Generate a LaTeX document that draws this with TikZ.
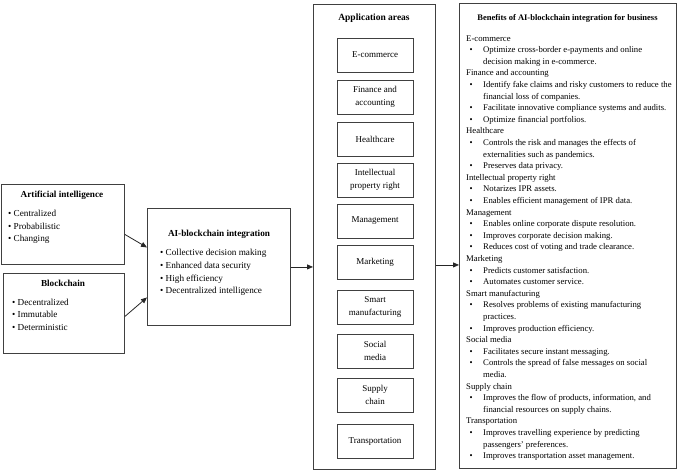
\documentclass[tikz,border=0pt]{standalone}
\usepackage{fontspec}
\setmainfont{Liberation Serif}
\usetikzlibrary{arrows.meta,positioning,calc}
\begin{document}
\begin{tikzpicture}[x=1pt,y=-1pt,
  box/.style={draw=black!75, line width=0.9pt, inner sep=0pt, anchor=north west},
  ttl/.style={font=\fontsize{9.2}{11}\selectfont\bfseries, inner sep=0pt},
  itm/.style={font=\fontsize{9.2}{11}\selectfont, inner sep=0pt, anchor=west, text height=6.6pt, text depth=2pt},
  area/.style={draw=black!75, line width=0.8pt, minimum width=76pt, minimum height=34pt, inner sep=1pt, align=center, font=\fontsize{9}{12.5}\selectfont},
  btxt/.style={font=\fontsize{8.7}{10}\selectfont, inner sep=0pt, anchor=west, text height=6pt, text depth=1.8pt},
  arr/.style={-{Triangle[length=6pt,width=5pt]}, line width=0.8pt, black!85}]
\useasboundingbox (0,0) rectangle (677,473);

% Artificial intelligence
\node[box, minimum width=123.5pt, minimum height=80pt] (ai) at (0.5,184) {};
\node[ttl] (aiT) at (62,195) {Artificial intelligence};
\node[itm] (ai1) at (8,214) {\textbullet\ Centralized};
\node[itm] (ai2) at (8,227) {\textbullet\ Probabilistic};
\node[itm] (ai3) at (8,239) {\textbullet\ Changing};

% Blockchain
\node[box, minimum width=121pt, minimum height=80pt] (bc) at (3,273) {};
\node[ttl] (bcT) at (63,283) {Blockchain};
\node[itm] (bc1) at (12,303) {\textbullet\ Decentralized};
\node[itm] (bc2) at (12,315) {\textbullet\ Immutable};
\node[itm] (bc3) at (12,328) {\textbullet\ Deterministic};

% Integration
\node[box, minimum width=143pt, minimum height=117pt] (integ) at (147,208) {};
\node[ttl] (inT) at (219,234) {AI-blockchain integration};
\node[itm] (in1) at (160,253) {\textbullet\ Collective decision making};
\node[itm] (in2) at (160,266) {\textbullet\ Enhanced data security};
\node[itm] (in3) at (160,279) {\textbullet\ High efficiency};
\node[itm] (in4) at (160,291) {\textbullet\ Decentralized intelligence};

% Application areas
\node[box, minimum width=122pt, minimum height=465pt] (app) at (313,4) {};
\node[ttl, font=\fontsize{9.5}{11}\selectfont\bfseries] (apT) at (374,18) {Application areas};
\foreach \n/\yy/\t in {ecom/55/E-commerce, fin/97/{Finance and\\accounting}, hc/139/Healthcare,
  ipr/180/{Intellectual\\property right}, mgt/221/Management, mkt/262/Marketing,
  sm/307/{Smart\\manufacturing}, soc/351/{Social\\media}, sup/395/{Supply\\chain}, tr/441/Transportation}
  \node[area] (\n) at (375,\yy) {\t};

% Benefits
\node[box, minimum width=217pt, minimum height=465pt] (ben) at (459,3) {};
\node[ttl, font=\fontsize{8.5}{10}\selectfont\bfseries] (beT) at (567.5,18) {Benefits of AI-blockchain integration for business};
\foreach \k/\t [count=\i from 0] in {
  h/E-commerce,
  b/{Optimize cross-border e-payments and online},
  c/{decision making in e-commerce.},
  h/{Finance and accounting},
  b/{Identify fake claims and risky customers to reduce the},
  c/{financial loss of companies.},
  b/{Facilitate innovative compliance systems and audits.},
  b/{Optimize financial portfolios.},
  h/Healthcare,
  b/{Controls the risk and manages the effects of},
  c/{externalities such as pandemics.},
  b/{Preserves data privacy.},
  h/{Intellectual property right},
  b/{Notarizes IPR assets.},
  b/{Enables efficient management of IPR data.},
  h/Management,
  b/{Enables online corporate dispute resolution.},
  b/{Improves corporate decision making.},
  b/{Reduces cost of voting and trade clearance.},
  h/Marketing,
  b/{Predicts customer satisfaction.},
  b/{Automates customer service.},
  h/{Smart manufacturing},
  b/{Resolves problems of existing manufacturing},
  c/{practices.},
  b/{Improves production efficiency.},
  h/{Social media},
  b/{Facilitates secure instant messaging.},
  b/{Controls the spread of false messages on social},
  c/{media.},
  h/{Supply chain},
  b/{Improves the flow of products, information, and},
  c/{financial resources on supply chains.},
  h/Transportation,
  b/{Improves travelling experience by predicting},
  c/{passengers' preferences.},
  b/{Improves transportation asset management.}} {
  \if h\k
    \node[btxt] (bl\i) at ({466},{39+\i*11.6}) {\t};
  \else
    \node[btxt] (bl\i) at ({483},{39+\i*11.6}) {\t};
  \fi
  \if b\k
    \node[btxt] (bb\i) at ({469.5},{39+\i*11.6}) {\textbullet};
  \fi
}

% Connectors
\draw[arr] ([yshift=-10pt]ai.east) -- ([yshift=19.5pt]integ.west);
\draw[arr] ([yshift=-3pt]bc.east) -- ([yshift=-30.5pt]integ.west);
\draw[arr] (integ.east) -- (integ.east -| app.west);
\draw[arr] ([yshift=2pt]app.east |- integ.east) -- ([yshift=2pt]ben.west |- integ.east);
\end{tikzpicture}
\end{document}
